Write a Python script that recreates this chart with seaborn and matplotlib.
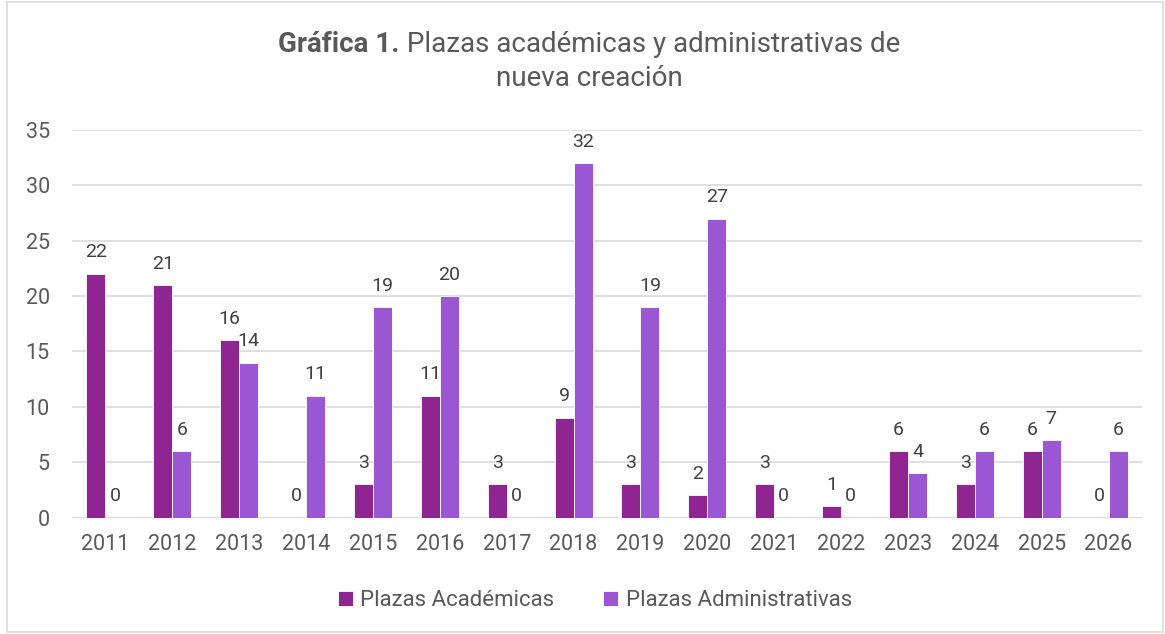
import matplotlib
matplotlib.use("Agg")
import matplotlib.pyplot as plt
import seaborn as sns
import pandas as pd
from matplotlib.patches import Rectangle

# datos de la gráfica
anios = ["2011", "2012", "2013", "2014", "2015", "2016", "2017", "2018",
         "2019", "2020", "2021", "2022", "2023", "2024", "2025", "2026"]
academicas = [22, 21, 16, 0, 3, 11, 3, 9, 3, 2, 3, 1, 6, 3, 6, 0]
administrativas = [0, 6, 14, 11, 19, 20, 0, 32, 19, 27, 0, 0, 4, 6, 7, 6]
series = ["Plazas Académicas", "Plazas Administrativas"]
colores = ["#8E2590", "#9B57D3"]

df = pd.DataFrame({
    "anio": anios * 2,
    "plazas": academicas + administrativas,
    "tipo": [series[0]] * len(anios) + [series[1]] * len(anios),
})

sns.set_theme(style="white")
plt.rcParams["font.family"] = ["Roboto", "DejaVu Sans"]
gris = "#595959"

W, H = 1165, 634
fig = plt.figure(figsize=(W / 100, H / 100), dpi=100)
ax = fig.add_axes([72 / W, (H - 517.5) / H, 1070 / W, (517.5 - 130) / H])

sns.barplot(data=df, x="anio", y="plazas", hue="tipo", palette=colores,
            saturation=1, width=0.57, gap=0, edgecolor="white", linewidth=0.6, ax=ax)

for cont in ax.containers:
    ax.bar_label(cont, padding=9, fontsize=14, color="#404040")

ax.set_ylim(0, 35)
ax.set_yticks(range(0, 36, 5))
ax.yaxis.grid(True, color="#d9d9d9", linewidth=1.2)
ax.set_axisbelow(True)
for s in ax.spines.values():
    s.set_visible(False)
ax.axhline(0, color="#d9d9d9", linewidth=1.2, zorder=0)
ax.set_xlabel("")
ax.set_ylabel("")
ax.tick_params(axis="both", length=0, labelsize=15.5, labelcolor=gris)
ax.tick_params(axis="y", pad=16)
ax.tick_params(axis="x", pad=12)

ax.legend(loc="center", bbox_to_anchor=(595 / W, 1 - 601 / H), bbox_transform=fig.transFigure,
          ncol=2, frameon=False, fontsize=16, labelcolor=gris, handlelength=0.65,
          handleheight=0.65, handletextpad=0.35, columnspacing=2.2)

# titulo con parte en negrita
fig.canvas.draw()
r = fig.canvas.get_renderer()
y1 = 1 - 45 / H
t_b = fig.text(0, y1, "Gráfica 1.", fontsize=20, fontweight="bold", color=gris, va="center")
t_n = fig.text(0, y1, " Plazas académicas y administrativas de", fontsize=20, color=gris, va="center")
wb = t_b.get_window_extent(r).width
wn = t_n.get_window_extent(r).width
x0 = (589 - (wb + wn) / 2) / W
t_b.set_x(x0)
t_n.set_x(x0 + wb / W)
fig.text(589 / W, 1 - 78 / H, "nueva creación", fontsize=20, color=gris,
         ha="center", va="center")

fig.patches.append(Rectangle((7 / W, 2 / H), (W - 9) / W, (H - 4) / H, transform=fig.transFigure,
                             fill=False, edgecolor="#d9d9d9", linewidth=1.2))

fig.savefig("out.png", dpi=100)
